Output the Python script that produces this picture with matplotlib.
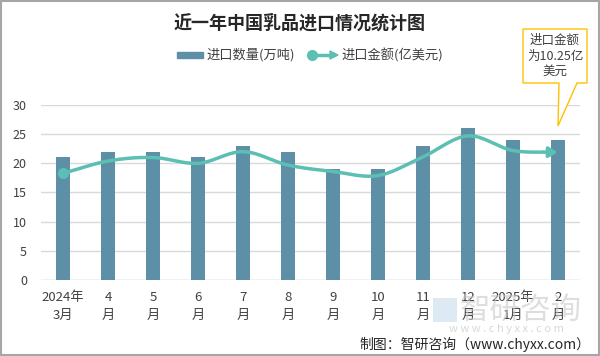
import numpy as np
import matplotlib
matplotlib.use("Agg")
import matplotlib.pyplot as plt
from matplotlib.patches import Rectangle, Polygon
from matplotlib.lines import Line2D

plt.rcParams['font.family'] = ['Noto Sans CJK SC', 'DejaVu Sans']

categories = ["2024年\n3月", "4\n月", "5\n月", "6\n月", "7\n月", "8\n月", "9\n月",
              "10\n月", "11\n月", "12\n月", "2025年\n1月", "2\n月"]
quantity = [21, 22, 22, 21, 23, 22, 19, 19, 23, 26, 24, 24]
amount = [18.3, 20.4, 21.0, 20.0, 22.0, 19.7, 18.6, 17.9, 21.1, 24.7, 22.2, 21.9]
yticks = [0, 5, 10, 15, 20, 25, 30]

bar_color = "#5D8FA7"
line_color = "#5CBFB4"

fig = plt.figure(figsize=(6, 3.56), dpi=100)
ax = fig.add_axes([0.068, 0.2135, 0.899, 0.4916])

x = np.arange(len(categories))
ax.bar(x, quantity, width=0.31, color=bar_color, zorder=3)

# smooth line (Catmull-Rom rendering)
def catmull(xs, ys, n=20):
    xs = np.asarray(xs, float); ys = np.asarray(ys, float)
    px = np.concatenate([[2*xs[0]-xs[1]], xs, [2*xs[-1]-xs[-2]]])
    py = np.concatenate([[2*ys[0]-ys[1]], ys, [2*ys[-1]-ys[-2]]])
    ox, oy = [], []
    for i in range(1, len(px)-2):
        t = np.linspace(0, 1, n, endpoint=False)
        for arr, out in ((px, ox), (py, oy)):
            p0, p1, p2, p3 = arr[i-1], arr[i], arr[i+1], arr[i+2]
            out.extend(0.5*((2*p1) + (-p0+p2)*t + (2*p0-5*p1+4*p2-p3)*t**2 + (-p0+3*p1-3*p2+p3)*t**3))
    ox.append(xs[-1]); oy.append(ys[-1])
    return np.array(ox), np.array(oy)

sx, sy = catmull(x, amount)
ax.plot(sx[:-6], sy[:-6], color=line_color, lw=2.5, zorder=4, solid_capstyle='butt')
ax.plot([x[0]], [amount[0]], 'o', color=line_color, ms=7, zorder=5)
ax.annotate("", xy=(x[-1], amount[-1]), xytext=(sx[-7], sy[-7]),
            arrowprops=dict(arrowstyle="-|>,head_length=0.5,head_width=0.3", color=line_color, lw=2.5,
                            shrinkA=0, shrinkB=0), zorder=5)

ax.set_xlim(-0.5, len(categories)-0.5)
ax.set_ylim(0, 30)
ax.set_yticks(yticks)
ax.set_yticklabels([str(v) for v in yticks], fontsize=9, color="#404040")
ax.set_xticks(x)
ax.set_xticklabels(categories, fontsize=9.5, color="#404040", linespacing=1.5)
ax.tick_params(length=0, pad=8)
ax.tick_params(axis='y', pad=10)
ax.grid(axis='y', color="#D9D9D9", lw=1, zorder=0)
for s in ax.spines.values():
    s.set_visible(False)
ax.axhline(0, color="#D9D9D9", lw=1, zorder=2)

fig.text(0.5, 0.935, "近一年中国乳品进口情况统计图", ha='center', va='center',
         fontsize=13, fontweight='bold', color="#262626")

# legend
H = 356.0
fig.patches.append(Rectangle((177/600, 1-58/H), 26/600, 6/H, transform=fig.transFigure,
                             color=bar_color, figure=fig))
fig.text(206/600, 1-55/H, "进口数量(万吨)", fontsize=9.5, color="#404040", va='center')
fig.lines.append(Line2D([312/600, 332/600], [1-55/H, 1-55/H], transform=fig.transFigure,
                        color=line_color, lw=2.5, figure=fig))
fig.lines.append(Line2D([312/600], [1-55/H], transform=fig.transFigure, marker='o', ms=7,
                        color=line_color, figure=fig))
fig.patches.append(Polygon([[330/600, 1-51/H], [338/600, 1-55/H], [330/600, 1-59/H]],
                           closed=True, transform=fig.transFigure, color=line_color, figure=fig))
fig.text(341/600, 1-55/H, "进口金额(亿美元)", fontsize=9.5, color="#404040", va='center')

# callout
pts = [[523, 29], [587, 29], [587, 83], [577, 83], [558, 126], [559, 83], [523, 83]]
fig.patches.append(Polygon([[px/600, 1-py/H] for px, py in pts], closed=True,
                           transform=fig.transFigure, facecolor='white', edgecolor="#FFC000",
                           lw=1, figure=fig, zorder=10))
fig.text(555/600, 1-56/H, "进口金额\n为10.25亿\n美元", ha='center', va='center', fontsize=9,
         color="#404040", linespacing=1.25, zorder=11)

# watermark
fig.patches.append(Rectangle((433/600, 1-322/H), 24/600, 24/H, transform=fig.transFigure,
                             facecolor="#C9DCEC", edgecolor='none', alpha=0.6, figure=fig))
fig.text(521/600, 1-310/H, "智研咨询", ha='center', va='center', fontsize=22, color="#C8C8C8",
         alpha=0.6)
fig.text(506/600, 1-329/H, "w w w . c h y x x . c o m", ha='center', va='center', fontsize=8,
         color="#C8C8C8", alpha=0.7)

fig.text(590/600, 1-344/H, "制图：智研咨询（www.chyxx.com）", ha='right', va='center',
         fontsize=10, color="#262626")

fig.patches.append(Rectangle((0.001, 0.002), 0.997, 0.995, transform=fig.transFigure,
                             fill=False, edgecolor="#A6A6A6", lw=1.5, figure=fig))

fig.savefig("out.png", dpi=100)
